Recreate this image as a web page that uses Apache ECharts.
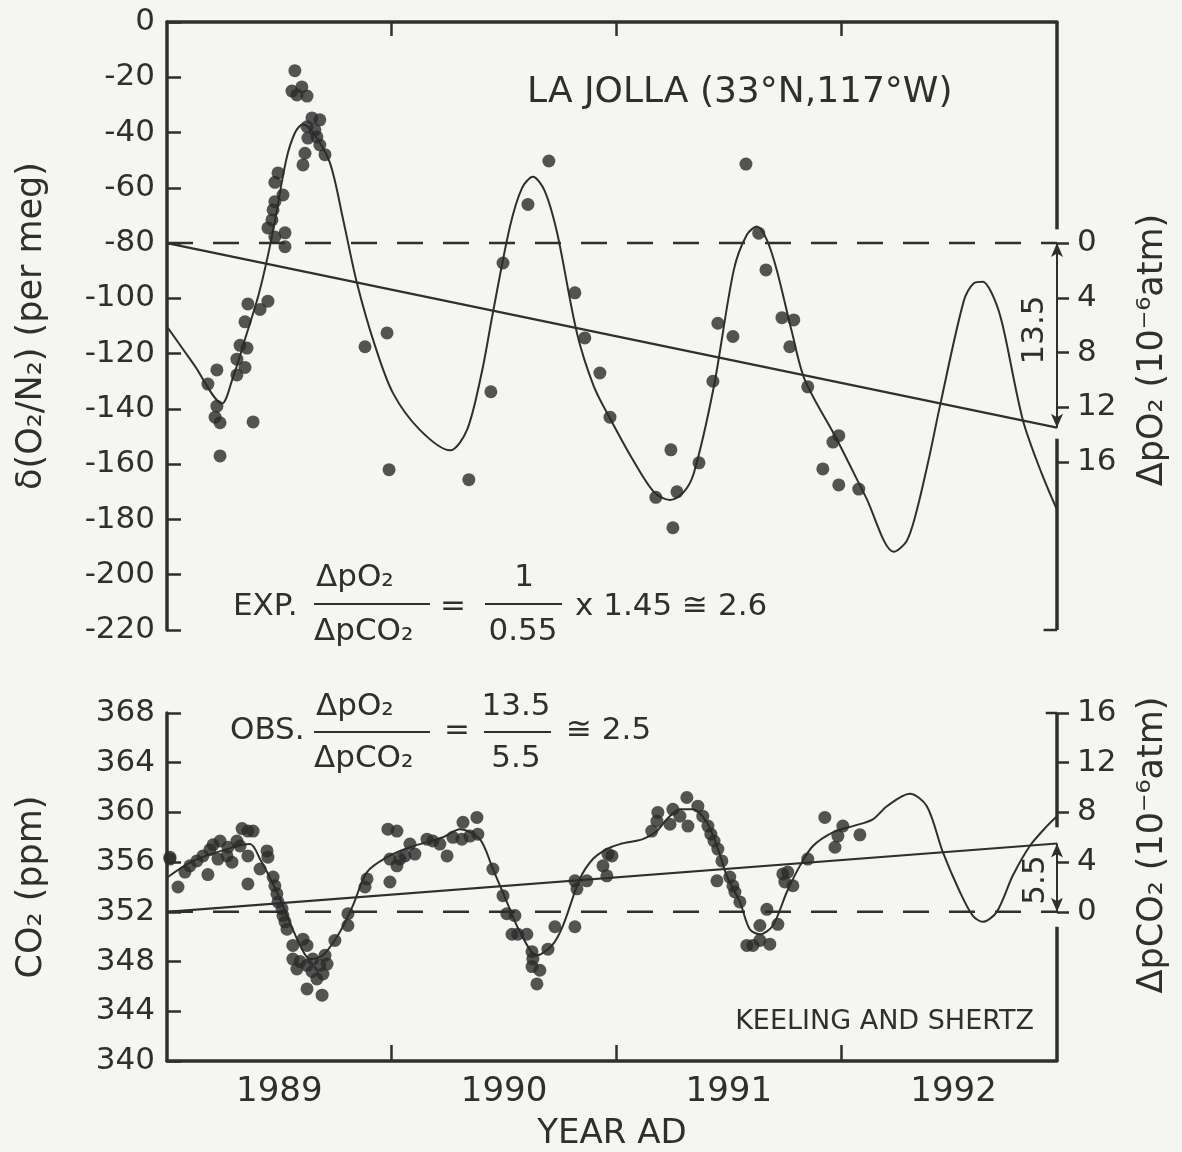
<!DOCTYPE html>
<html><head><meta charset="utf-8">
<script src="https://cdn.jsdelivr.net/npm/echarts@6/dist/echarts.min.js"></script>
<style>html,body{margin:0;padding:0;background:#f5f5f1}#c{width:1182px;height:1152px}</style>
</head><body><div id="c"></div>
<script>
// ---------- axes ----------
const X_MIN = 1989, X_MAX = 1992.96;
const yearTicks = [1990, 1991, 1992];
const yearLabels = [1989.5, 1990.5, 1991.5, 1992.5];
const o2Min = -220, o2Max = 0, o2Interval = 20;
const co2Min = 340, co2Max = 368, co2Interval = 4;
const dpo2Labels = [0, 4, 8, 12, 16];
const dpco2Labels = [0, 4, 8, 12, 16];
const O2_REF = -80;          // per meg, zero of delta pO2
const CO2_REF = 352;         // ppm, zero of delta pCO2
const PERMEG_PER_UATM = 4.95;
const dO2Total = 13.5, dCO2Total = 5.5;

// ---------- O2 data (year, per meg) ----------
const o2Points = [
 [1989.569,-17.6],[1989.556,-25.0],[1989.600,-23.5],[1989.623,-26.8],[1989.578,-26.4],
 [1989.645,-34.7],[1989.680,-35.4],[1989.623,-37.9],[1989.658,-39.0],[1989.627,-42.0],[1989.680,-44.5],
 [1989.667,-41.6],[1989.614,-47.5],[1989.703,-48.0],[1989.605,-51.7],
 [1989.494,-54.6],[1989.480,-58.0],[1989.516,-62.6],[1989.480,-65.0],[1989.472,-68.0],[1989.467,-71.6],
 [1989.449,-74.5],[1989.525,-76.3],[1989.525,-81.3],[1989.480,-77.8],
 [1989.449,-101.0],[1989.414,-104.0],[1989.360,-102.0],[1989.347,-108.5],[1989.325,-117.0],[1989.356,-118.0],
 [1989.311,-122.0],[1989.347,-125.0],[1989.311,-127.7],
 [1989.222,-125.9],[1989.182,-131.0],[1989.222,-139.0],[1989.214,-143.0],[1989.236,-145.0],[1989.236,-157.0],
 [1989.383,-144.7],
 [1989.881,-117.5],[1989.979,-112.5],[1989.988,-162.0],[1990.343,-165.6],[1990.441,-133.8],[1990.495,-87.2],
 [1990.606,-66.0],[1990.699,-50.3],[1990.815,-98.0],[1990.859,-114.3],[1990.926,-127.0],[1990.971,-143.0],
 [1991.175,-172.0],[1991.242,-154.8],[1991.269,-170.0],[1991.251,-183.0],[1991.367,-159.5],[1991.429,-130.0],
 [1991.451,-109.0],[1991.518,-113.8],[1991.576,-51.4],[1991.633,-76.4],[1991.665,-89.7],[1991.736,-107.0],
 [1991.789,-107.8],[1991.771,-117.5],[1991.851,-132.0],[1991.989,-149.7],[1991.963,-152.0],[1991.918,-161.7],
 [1991.989,-167.5],[1992.078,-169.0]
];
const o2Fit = [
 [1989.004,-110.7],[1989.120,-124.0],[1989.245,-138.0],[1989.290,-129.5],[1989.350,-114.0],[1989.410,-98.0],
 [1989.470,-76.4],[1989.530,-50.0],[1989.570,-40.0],[1989.605,-37.0],[1989.650,-40.0],[1989.725,-51.0],
 [1989.785,-72.0],[1989.845,-94.4],[1989.925,-117.0],[1990.005,-134.2],[1990.125,-147.6],[1990.260,-155.0],
 [1990.335,-147.6],[1990.400,-127.0],[1990.450,-105.2],[1990.526,-74.0],[1990.580,-60.0],[1990.628,-56.0],
 [1990.680,-61.0],[1990.735,-76.0],[1990.824,-112.5],[1990.900,-132.0],[1990.975,-144.0],[1991.070,-158.0],
 [1991.166,-170.0],[1991.238,-173.0],[1991.300,-170.0],[1991.345,-163.0],[1991.433,-132.0],[1991.522,-89.7],
 [1991.580,-77.0],[1991.625,-74.0],[1991.670,-79.0],[1991.714,-90.0],[1991.780,-112.0],[1991.838,-129.5],
 [1991.980,-151.0],[1992.110,-172.0],[1992.234,-191.7],[1992.290,-188.0],[1992.332,-178.0],[1992.390,-158.0],
 [1992.439,-139.0],[1992.545,-101.0],[1992.590,-94.5],[1992.630,-94.0],[1992.680,-100.0],[1992.719,-110.0],
 [1992.808,-144.0],[1992.890,-163.0],[1992.960,-176.5]
];
const o2Trend = [[1989, -80], [1992.96, -146.8]];
const o2Zero = [[1989, -80], [1992.96, -80]];

// ---------- CO2 data (year, ppm) ----------
const co2Points = [
 [1989.013,356.25],[1989.013,356.4],[1989.049,354.0],[1989.080,355.2],[1989.102,355.7],[1989.133,356.1],
 [1989.160,356.5],[1989.182,355.0],[1989.191,357.0],[1989.205,357.4],[1989.236,357.7],[1989.227,356.25],
 [1989.267,356.5],[1989.271,357.2],[1989.289,356.0],[1989.311,357.7],[1989.325,357.3],[1989.334,358.7],
 [1989.360,358.5],[1989.383,358.5],[1989.360,356.5],[1989.360,354.25],[1989.414,355.45],[1989.445,356.9],
 [1989.449,356.4],[1989.472,354.8],[1989.480,354.1],[1989.489,353.45],[1989.494,352.8],[1989.512,352.25],
 [1989.516,351.7],[1989.525,351.2],[1989.534,350.6],[1989.560,349.3],[1989.605,349.8],[1989.623,349.3],
 [1989.560,348.2],[1989.592,348.0],[1989.578,347.4],[1989.623,347.7],[1989.649,348.2],[1989.645,347.2],
 [1989.680,347.7],[1989.703,348.5],[1989.712,347.8],[1989.694,347.0],[1989.667,346.6],[1989.623,345.8],
 [1989.690,345.3],[1989.747,349.7],[1989.805,350.9],[1989.805,351.85],[1989.881,354.0],[1989.890,354.65],
 [1989.983,358.65],[1990.023,358.5],[1989.992,354.4],[1989.992,356.25],[1990.023,355.7],[1990.036,356.25],
 [1990.059,356.5],[1990.081,357.45],[1990.103,356.65],[1990.157,357.85],[1990.183,357.7],[1990.214,357.45],
 [1990.246,356.5],[1990.272,358.0],[1990.312,357.85],[1990.317,359.2],[1990.348,358.1],[1990.379,359.6],
 [1990.383,358.25],[1990.450,355.45],[1990.495,353.3],[1990.512,351.85],[1990.548,351.7],[1990.535,350.2],
 [1990.561,350.2],[1990.601,350.2],[1990.624,348.8],[1990.628,348.2],[1990.624,347.6],[1990.659,347.3],
 [1990.646,346.2],[1990.695,349.0],[1990.726,350.8],[1990.815,350.8],[1990.815,354.5],[1990.824,353.85],
 [1990.868,354.5],[1990.940,355.7],[1990.962,356.65],[1990.957,354.9],[1990.980,356.5],
 [1991.157,358.5],[1991.184,360.0],[1991.180,359.3],[1991.238,359.05],[1991.251,360.25],[1991.282,359.7],
 [1991.313,361.2],[1991.318,358.9],[1991.362,360.5],[1991.384,359.7],[1991.407,358.9],[1991.420,358.25],
 [1991.434,357.7],[1991.451,357.05],[1991.469,356.1],[1991.447,354.5],[1991.504,354.8],[1991.518,354.1],
 [1991.527,353.6],[1991.549,352.8],[1991.669,352.2],[1991.638,350.9],[1991.718,351.0],[1991.580,349.3],
 [1991.638,349.7],[1991.682,349.4],[1991.607,349.3],[1991.740,355.05],[1991.762,355.2],[1991.785,354.1],
 [1991.749,354.4],[1991.851,356.25],[1991.927,359.6],[1992.007,358.9],[1991.985,358.1],[1991.972,357.2],
 [1992.083,358.2]
];
const co2Fit = [
 [1989.004,354.8],[1989.116,356.1],[1989.267,357.05],[1989.369,357.45],[1989.414,356.25],[1989.489,353.6],
 [1989.534,351.7],[1989.592,349.3],[1989.636,348.2],[1989.694,348.5],[1989.770,350.4],[1989.827,352.5],
 [1989.890,355.2],[1989.979,356.4],[1990.081,357.2],[1990.228,358.0],[1990.303,358.65],[1990.392,357.85],
 [1990.450,355.45],[1990.512,352.8],[1990.570,350.4],[1990.646,348.5],[1990.713,349.3],[1990.762,350.9],
 [1990.837,354.65],[1990.895,356.25],[1990.957,357.05],[1991.015,357.45],[1991.117,357.85],[1991.180,358.5],
 [1991.224,359.45],[1991.282,360.25],[1991.340,360.25],[1991.402,359.2],[1991.447,357.3],[1991.491,354.9],
 [1991.549,352.8],[1991.593,350.6],[1991.638,350.2],[1991.696,350.9],[1991.758,353.6],[1991.816,355.7],
 [1991.874,357.3],[1991.963,358.4],[1992.052,358.9],[1992.141,359.45],[1992.203,360.5],[1992.305,361.5],
 [1992.381,360.5],[1992.452,356.8],[1992.528,353.6],[1992.585,351.7],[1992.630,351.2],[1992.692,352.0],
 [1992.763,354.9],[1992.839,357.3],[1992.915,358.9],[1992.960,359.7]
];
const co2Trend = [[1989, 352], [1992.96, 357.5]];
const co2Zero = [[1989, 352], [1992.96, 352]];

// ---------- derived axis extents ----------
const toDpO2 = d => (O2_REF - d) / PERMEG_PER_UATM;
const dpo2Top = toDpO2(o2Max), dpo2Bottom = toDpO2(o2Min);
const dpco2Min = co2Min - CO2_REF, dpco2Max = co2Max - CO2_REF;

const ink = '#2f2f2f';
const FONT = '"DejaVu Sans", sans-serif';
const chart = echarts.init(document.getElementById('c'));

function seg(xi, yi, data, w, extra) {
  return Object.assign({type:'line', xAxisIndex:xi, yAxisIndex:yi, data, symbol:'none', silent:true,
    clip:false, lineStyle:{color:ink, width:w}, z:4}, extra || {});
}
const arrowML = (a, b) => ({silent:true, symbol:['arrow','arrow'], symbolSize:[9,14], label:{show:false},
  lineStyle:{color:ink, width:2, type:'solid'}, emphasis:{disabled:true},
  data:[[{coord:[X_MAX, a]}, {coord:[X_MAX, b]}]]});

const labelStyle = {color:ink, fontSize:31, fontFamily:FONT};
const nameStyle = {color:ink, fontSize:35, fontFamily:FONT};
const F = '31px ' + FONT;

const option = {
  backgroundColor:'#f5f5f1',
  animation:false,
  title:{text:'LA JOLLA (33°N,117°W)', left:522, top:70,
    textStyle:{color:ink, fontSize:36, fontWeight:'normal', fontFamily:FONT}},
  grid:[
    {left:167, right:125, top:22, height:608},
    {left:167, right:125, top:713, height:349}
  ],
  xAxis:[
    {type:'value', gridIndex:0, position:'top', min:X_MIN, max:X_MAX,
     axisLine:{show:true, onZero:false, lineStyle:{color:ink, width:3.5}},
     axisTick:{show:true, inside:true, length:14, customValues:yearTicks, lineStyle:{color:ink, width:2.5}},
     axisLabel:{show:false}, splitLine:{show:false}},
    {type:'value', gridIndex:1, position:'bottom', min:X_MIN, max:X_MAX,
     axisLine:{show:true, onZero:false, lineStyle:{color:ink, width:3.5}},
     axisTick:{show:true, inside:true, length:16, customValues:yearTicks, lineStyle:{color:ink, width:2.5}},
     axisLabel:{show:true, customValues:yearLabels, formatter:v => String(Math.floor(v)), margin:14,
       color:ink, fontSize:34, fontFamily:FONT},
     splitLine:{show:false},
     name:'YEAR AD', nameLocation:'middle', nameGap:56, nameTextStyle:{color:ink, fontSize:34, fontFamily:FONT}}
  ],
  yAxis:[
    {type:'value', gridIndex:0, min:o2Min, max:o2Max, interval:o2Interval, position:'left',
     axisLine:{show:true, onZero:false, lineStyle:{color:ink, width:3.5}},
     axisTick:{show:true, inside:true, length:14, lineStyle:{color:ink, width:2.5}},
     axisLabel:Object.assign({margin:12}, labelStyle), splitLine:{show:false},
     name:'δ(O₂/N₂) (per meg)', nameLocation:'middle', nameRotate:90, nameGap:118, nameTextStyle:nameStyle},
    {type:'value', gridIndex:0, inverse:true, min:dpo2Top, max:dpo2Bottom, position:'right',
     axisLine:{show:false, onZero:false},
     axisTick:{show:true, inside:false, length:12, customValues:dpo2Labels, lineStyle:{color:ink, width:2.5}},
     axisLabel:Object.assign({margin:20, customValues:dpo2Labels}, labelStyle), splitLine:{show:false},
     name:'ΔpO₂ (10⁻⁶atm)', nameLocation:'middle', nameRotate:90, nameGap:78,
     nameTextStyle:Object.assign({padding:[0,48,0,0]}, nameStyle)},
    {type:'value', gridIndex:1, min:co2Min, max:co2Max, interval:co2Interval, position:'left',
     axisLine:{show:true, onZero:false, lineStyle:{color:ink, width:3.5}},
     axisTick:{show:true, inside:true, length:14, lineStyle:{color:ink, width:2.5}},
     axisLabel:Object.assign({margin:12}, labelStyle), splitLine:{show:false},
     name:'CO₂ (ppm)', nameLocation:'middle', nameRotate:90, nameGap:118, nameTextStyle:nameStyle},
    {type:'value', gridIndex:1, min:dpco2Min, max:dpco2Max, interval:4, position:'right',
     axisLine:{show:false, onZero:false},
     axisTick:{show:true, inside:false, length:12, customValues:dpco2Labels, lineStyle:{color:ink, width:2.5}},
     axisLabel:Object.assign({margin:20, customValues:dpco2Labels}, labelStyle), splitLine:{show:false},
     name:'ΔpCO₂ (10⁻⁶atm)', nameLocation:'middle', nameRotate:90, nameGap:78,
     nameTextStyle:Object.assign({padding:[0,0,0,84]}, nameStyle)}
  ],
  series:[
    // top panel
    seg(0,0,o2Zero,2.5,{lineStyle:{color:ink,width:2.5,type:[26,20]}}),
    seg(0,0,o2Trend,2.2),
    {type:'line', xAxisIndex:0, yAxisIndex:0, data:o2Fit, symbol:'none', smooth:0.3,
     lineStyle:{color:ink, width:2}, silent:true, z:3},
    {type:'scatter', xAxisIndex:0, yAxisIndex:0, data:o2Points, symbol:'circle', symbolSize:13,
     itemStyle:{color:'#2a2a2a'}, silent:true, z:6},
    seg(0,1,[[X_MAX,dpo2Top],[X_MAX,-1.0]],3.5,{markLine:arrowML(0,dO2Total)}),
    seg(0,1,[[X_MAX,14.3],[X_MAX,dpo2Bottom]],3.5),
    seg(0,1,[[X_MAX-0.06,dpo2Bottom],[X_MAX,dpo2Bottom]],2.5),
    // bottom panel
    seg(1,2,co2Zero,2.5,{lineStyle:{color:ink,width:2.5,type:[26,20]}}),
    seg(1,2,co2Trend,2.2),
    {type:'line', xAxisIndex:1, yAxisIndex:2, data:co2Fit, symbol:'none', smooth:0.3,
     lineStyle:{color:ink, width:2}, silent:true, z:3},
    {type:'scatter', xAxisIndex:1, yAxisIndex:2, data:co2Points, symbol:'circle', symbolSize:13,
     itemStyle:{color:'#2a2a2a'}, silent:true, z:6},
    seg(1,3,[[X_MAX,dpco2Max],[X_MAX,6.8]],3.5,{markLine:arrowML(dCO2Total,0)}),
    seg(1,3,[[X_MAX,-1.2],[X_MAX,dpco2Min]],3.5),
    seg(1,3,[[X_MAX-0.05,dpco2Max],[X_MAX,dpco2Max]],2.5)
  ],
  graphic:[
    // EXP. formula
    {type:'text', x:233, y:607, style:{text:'EXP.', font:F, fill:ink, verticalAlign:'middle'}},
    {type:'text', x:316, y:578, style:{text:'ΔpO₂', font:F, fill:ink, verticalAlign:'middle'}},
    {type:'line', shape:{x1:314, y1:604, x2:430, y2:604}, style:{stroke:ink, lineWidth:2.2}},
    {type:'text', x:314, y:632, style:{text:'ΔpCO₂', font:F, fill:ink, verticalAlign:'middle'}},
    {type:'text', x:440, y:607, style:{text:'=', font:F, fill:ink, verticalAlign:'middle'}},
    {type:'text', x:524, y:578, style:{text:'1', font:F, fill:ink, align:'center', verticalAlign:'middle'}},
    {type:'line', shape:{x1:485, y1:604, x2:562, y2:604}, style:{stroke:ink, lineWidth:2.2}},
    {type:'text', x:523, y:632, style:{text:'0.55', font:F, fill:ink, align:'center', verticalAlign:'middle'}},
    {type:'text', x:575, y:607, style:{text:'x 1.45 ≅ 2.6', font:F, fill:ink, verticalAlign:'middle'}},
    // OBS. formula
    {type:'text', x:230, y:731, style:{text:'OBS.', font:F, fill:ink, verticalAlign:'middle'}},
    {type:'text', x:316, y:707, style:{text:'ΔpO₂', font:F, fill:ink, verticalAlign:'middle'}},
    {type:'line', shape:{x1:314, y1:732, x2:430, y2:732}, style:{stroke:ink, lineWidth:2.2}},
    {type:'text', x:314, y:759, style:{text:'ΔpCO₂', font:F, fill:ink, verticalAlign:'middle'}},
    {type:'text', x:444, y:731, style:{text:'=', font:F, fill:ink, verticalAlign:'middle'}},
    {type:'text', x:516, y:707, style:{text:'13.5', font:F, fill:ink, align:'center', verticalAlign:'middle'}},
    {type:'line', shape:{x1:484, y1:732, x2:551, y2:732}, style:{stroke:ink, lineWidth:2.2}},
    {type:'text', x:516, y:759, style:{text:'5.5', font:F, fill:ink, align:'center', verticalAlign:'middle'}},
    {type:'text', x:566, y:731, style:{text:'≅ 2.5', font:F, fill:ink, verticalAlign:'middle'}},
    // arrow labels
    {type:'text', x:1035, y:330, rotation:Math.PI/2, style:{text:'13.5', font:F, fill:ink, align:'center', verticalAlign:'middle'}},
    {type:'text', x:1036, y:880, rotation:Math.PI/2, style:{text:'5.5', font:F, fill:ink, align:'center', verticalAlign:'middle'}},
    // credit
    {type:'text', x:1034, y:1022, style:{text:'KEELING AND SHERTZ', font:'27px '+FONT, fill:ink, align:'right', verticalAlign:'middle'}}
  ]
};
chart.setOption(option);
</script></body></html>
